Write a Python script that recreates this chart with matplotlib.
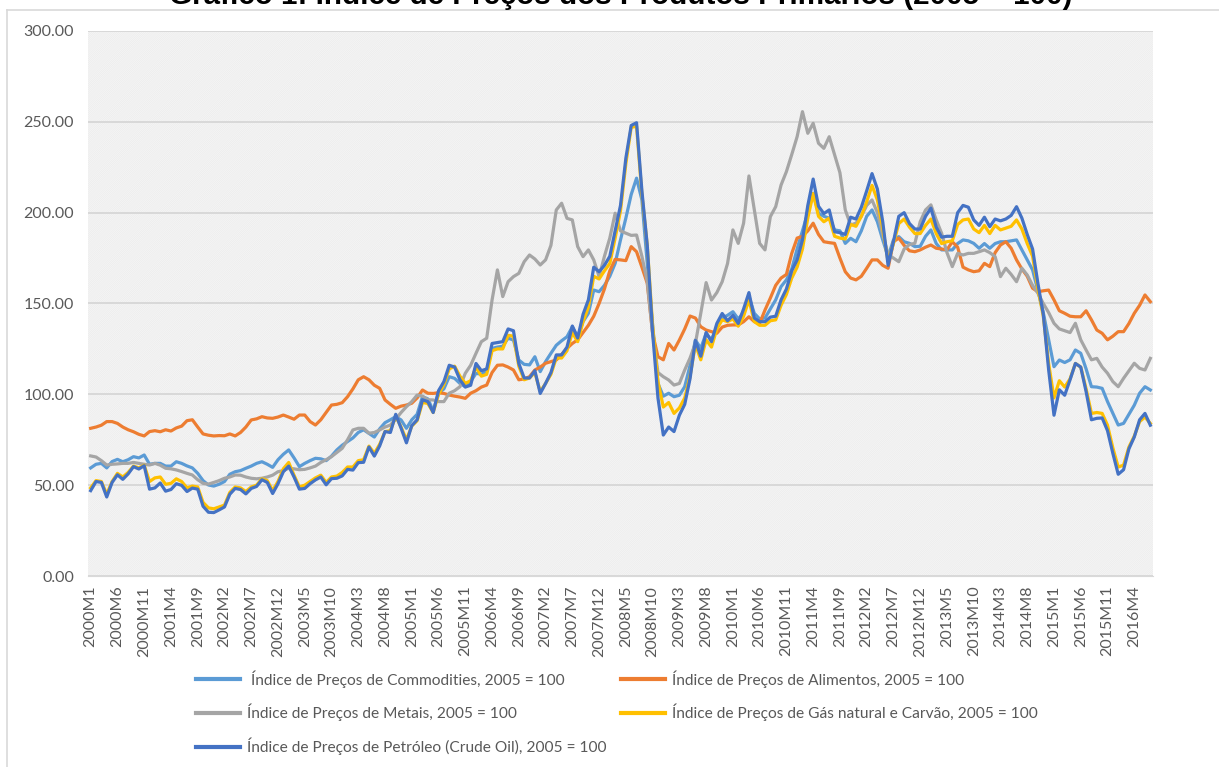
import numpy as np
import matplotlib.pyplot as plt
from matplotlib.lines import Line2D
from matplotlib.patches import Rectangle

plt.rcParams["font.family"] = ["Lato", "DejaVu Sans"]
plt.rcParams["hatch.linewidth"] = 0.9

# monthly categories 2000M1 .. 2016M7
months = [f"{y}M{m}" for y in range(2000, 2017) for m in range(1, 13)][:199]

commodities = [
    59.5, 61.5, 62.0, 59.5, 63.0, 64.2, 62.9, 64.0, 65.7, 65.0, 66.6, 61.5,
    62.0, 62.0, 60.5, 60.5, 62.9, 62.0, 60.6, 59.5, 56.5, 52.5, 50.1, 49.5,
    50.5, 52.0, 56.0, 57.4, 58.0, 59.3, 60.5, 62.0, 62.9, 61.5, 59.8, 64.0,
    67.0, 69.4, 65.0, 60.2, 62.0, 63.5, 64.8, 64.5, 63.5, 66.0, 69.4, 72.0,
    74.0, 76.0, 79.0, 80.5, 78.5, 76.5, 81.0, 84.4, 86.0, 87.7, 85.9, 81.3,
    86.0, 89.0, 98.7, 97.5, 91.0, 100.6, 103.0, 109.7, 108.8, 106.0, 104.2, 107.0,
    111.6, 111.0, 113.0, 125.3, 126.0, 126.5, 130.9, 129.9, 118.9, 116.5, 116.2, 120.7,
    112.5, 118.0, 122.6, 127.0, 129.5, 131.7, 137.2, 131.7, 140.0, 144.6, 157.4, 156.5,
    160.0, 165.0, 172.1, 185.0, 197.0, 210.0, 219.0, 207.0, 172.0, 138.0, 106.0, 99.0,
    100.6, 98.7, 99.5, 104.2, 116.0, 129.9, 125.3, 133.6, 129.9, 137.0, 141.9, 143.5,
    145.5, 141.5, 145.0, 153.8, 144.6, 141.5, 142.0, 147.0, 152.0, 159.3, 163.0, 169.0,
    180.0, 190.0, 200.0, 210.7, 199.7, 198.0, 197.0, 190.5, 190.0, 183.1, 185.9, 184.0,
    190.0, 198.0, 201.5, 195.0, 185.0, 175.8, 185.0, 186.8, 184.0, 183.1, 181.3, 181.5,
    187.0, 190.5, 183.0, 179.5, 179.5, 179.5, 183.0, 185.0, 184.5, 183.1, 180.4, 183.0,
    180.4, 183.0, 184.0, 184.0, 184.5, 185.0, 179.5, 174.0, 168.5, 157.0, 145.0, 130.0,
    115.2, 118.9, 117.5, 119.0, 124.4, 122.6, 114.0, 104.2, 104.0, 103.3, 96.0, 89.6,
    83.1, 84.0, 89.0, 94.0, 100.6, 104.2, 102.4,
]

food = [
    81.3, 82.0, 83.0, 85.0, 85.0, 84.0, 82.0, 80.5, 79.4, 78.0, 77.1, 79.5,
    80.0, 79.4, 80.5, 79.8, 81.5, 82.5, 85.5, 86.0, 82.0, 78.2, 77.5, 77.1,
    77.3, 77.2, 78.2, 77.1, 79.0, 82.0, 85.9, 86.5, 87.7, 87.0, 86.8, 87.5,
    88.6, 87.5, 86.3, 88.6, 88.6, 85.0, 83.1, 86.0, 90.0, 94.1, 94.5, 95.4,
    98.7, 103.0, 108.0, 109.7, 108.0, 105.0, 103.3, 96.9, 94.5, 92.3, 93.5, 94.1,
    95.1, 98.0, 102.4, 100.6, 100.5, 100.9, 100.5, 99.6, 99.0, 98.5, 97.8, 100.6,
    102.0, 104.0, 105.1, 112.0, 116.0, 116.2, 115.0, 113.4, 108.0, 108.5, 109.7, 113.4,
    115.0, 117.1, 118.0, 118.9, 122.0, 125.3, 128.0, 130.0, 134.0, 138.0, 143.0, 150.0,
    158.0, 168.0, 174.3, 174.0, 173.6, 181.3, 178.5, 170.0, 161.1, 133.6, 120.7, 119.0,
    128.0, 124.4, 129.9, 136.0, 143.1, 142.0, 137.2, 135.4, 134.5, 133.6, 137.0, 138.0,
    138.2, 138.2, 140.0, 142.7, 140.0, 139.1, 146.4, 153.0, 160.0, 164.0, 166.0, 177.6,
    186.0, 187.0, 190.0, 194.2, 188.0, 184.0, 183.5, 183.1, 175.0, 167.5, 164.0, 163.0,
    165.0, 169.4, 174.0, 174.0, 171.0, 169.4, 184.0, 186.0, 182.0, 179.0, 178.5, 179.5,
    181.0, 182.2, 180.4, 180.0, 179.5, 184.0, 181.0, 170.0, 168.5, 167.5, 168.0, 172.1,
    170.3, 178.0, 182.2, 184.0, 180.4, 174.0, 169.0, 165.0, 158.4, 156.5, 157.0, 157.4,
    152.0, 146.0, 144.6, 143.0, 142.7, 142.7, 146.0, 141.0, 135.4, 133.6, 130.0, 132.0,
    134.5, 134.5, 139.0, 144.6, 149.0, 154.7, 151.0,
]

metals = [
    66.1, 65.5, 63.5, 61.1, 61.5, 61.7, 62.0, 62.0, 62.5, 62.0, 61.5, 61.1,
    62.0, 61.0, 59.3, 59.0, 58.4, 57.5, 56.5, 55.6, 53.0, 51.0, 50.6, 51.5,
    52.5, 53.8, 54.5, 55.6, 55.5, 54.5, 53.8, 53.5, 53.8, 54.5, 55.5, 57.4,
    58.0, 59.3, 59.0, 58.5, 58.7, 59.5, 60.5, 62.5, 64.0, 65.7, 68.0, 70.3,
    75.0, 80.4, 81.3, 81.3, 78.6, 79.0, 80.4, 82.0, 83.1, 86.3, 90.0, 93.2,
    96.0, 99.6, 99.0, 97.0, 96.9, 96.0, 96.0, 100.6, 102.0, 104.2, 111.6, 116.0,
    122.6, 129.0, 130.9, 151.9, 168.5, 153.8, 162.0, 164.8, 166.6, 173.0, 176.7, 174.5,
    171.2, 174.0, 182.0, 201.5, 205.2, 196.9, 196.0, 181.3, 175.8, 179.5, 174.0, 164.8,
    176.0, 186.0, 199.7, 190.0, 188.7, 187.5, 187.7, 176.0, 162.0, 133.6, 112.0, 109.7,
    107.9, 105.1, 106.0, 113.4, 120.0, 128.1, 144.6, 161.5, 151.9, 156.0, 162.0, 172.0,
    190.5, 183.1, 194.2, 220.2, 201.5, 183.1, 179.5, 197.8, 203.3, 215.2, 222.6, 232.0,
    241.8, 255.6, 243.7, 249.2, 238.2, 235.4, 241.8, 232.0, 222.0, 201.5, 193.2, 194.2,
    198.0, 204.0, 207.0, 200.0, 188.0, 177.0, 175.0, 173.0, 180.0, 182.5, 183.1, 195.0,
    201.5, 204.3, 196.0, 188.7, 178.0, 170.3, 177.6, 176.7, 177.6, 177.6, 178.5, 179.5,
    178.0, 175.8, 164.8, 169.4, 166.0, 162.0, 169.4, 165.7, 160.0, 155.6, 150.0, 145.0,
    139.1, 136.0, 135.0, 134.0, 139.1, 130.0, 124.4, 119.0, 119.8, 115.0, 111.6, 107.0,
    104.2, 108.8, 113.0, 117.1, 114.3, 113.4, 119.8,
]

gas_coal = [
    48.5, 52.5, 52.0, 45.0, 52.0, 56.5, 54.5, 57.0, 60.5, 59.5, 61.0, 52.0,
    54.0, 54.5, 50.5, 51.0, 53.5, 52.0, 48.5, 49.5, 49.0, 40.5, 37.5, 37.0,
    38.0, 39.0, 46.0, 49.0, 48.5, 46.5, 49.0, 50.0, 53.5, 52.5, 47.0, 52.0,
    59.0, 62.5, 55.5, 49.0, 50.0, 52.0, 54.0, 55.5, 51.5, 54.5, 55.0, 57.0,
    60.0, 60.0, 63.5, 64.0, 71.5, 67.5, 72.5, 79.5, 80.0, 88.0, 82.0, 75.0,
    82.5, 85.5, 95.5, 95.0, 90.0, 100.0, 105.5, 114.0, 115.5, 110.0, 106.0, 107.5,
    115.0, 110.0, 111.0, 124.0, 125.0, 125.0, 132.5, 132.0, 115.5, 108.0, 109.0, 112.0,
    101.5, 106.0, 111.0, 120.0, 120.0, 124.0, 134.0, 129.0, 140.0, 148.0, 165.0, 163.5,
    168.0, 172.0, 186.0, 201.0, 227.0, 247.0, 247.5, 210.0, 182.0, 138.0, 107.0, 93.0,
    95.5, 89.5, 92.5, 98.0, 110.0, 127.5, 119.0, 130.0, 126.0, 136.0, 141.0, 140.0,
    141.5, 137.5, 143.0, 152.0, 140.0, 138.0, 138.0, 140.5, 141.0, 149.0, 155.0, 164.0,
    170.0, 180.0, 197.0, 210.5, 198.0, 195.0, 197.0, 187.0, 186.0, 185.5, 193.5, 192.5,
    198.0, 206.0, 215.0, 207.0, 191.5, 173.0, 183.0, 194.0, 196.5, 192.0, 188.5, 188.5,
    193.0, 196.5, 188.5, 183.0, 184.0, 184.5, 193.5, 196.0, 196.5, 191.0, 189.0, 193.0,
    188.5, 193.0, 190.5, 191.5, 192.5, 196.0, 191.0, 183.0, 176.0, 158.0, 143.0, 117.0,
    98.0, 107.5, 104.0, 108.5, 117.0, 115.0, 103.0, 89.5, 90.0, 89.5, 83.0, 70.5,
    60.0, 61.0, 71.0, 77.0, 85.0, 87.5, 84.0,
]

oil = [
    47.0, 52.0, 51.5, 43.5, 51.5, 55.7, 53.2, 56.2, 60.2, 58.9, 60.7, 47.8,
    48.5, 51.2, 46.7, 47.6, 50.8, 49.9, 46.5, 48.4, 47.8, 38.4, 35.1, 34.9,
    36.4, 38.0, 45.0, 48.2, 47.6, 45.2, 48.2, 49.3, 53.0, 51.5, 45.4, 50.8,
    57.4, 60.5, 54.5, 47.8, 48.2, 50.8, 52.9, 54.5, 50.2, 53.6, 53.8, 55.1,
    58.7, 58.3, 62.4, 62.6, 71.0, 66.0, 71.6, 79.5, 79.0, 89.0, 81.4, 73.3,
    82.8, 86.0, 97.0, 96.0, 90.0, 102.0, 107.0, 116.0, 115.0, 108.0, 104.0, 105.0,
    117.0, 113.0, 114.0, 128.0, 128.5, 129.0, 136.0, 135.0, 117.0, 109.0, 109.0, 113.0,
    100.5, 106.0, 112.0, 121.7, 121.7, 126.0, 137.6, 131.0, 144.0, 152.0, 170.0, 167.5,
    171.0, 176.0, 190.0, 204.0, 230.0, 248.0, 249.5, 212.0, 182.0, 134.0, 98.0, 77.6,
    82.0, 79.5, 88.5, 94.5, 108.7, 129.7, 121.0, 134.0, 129.0, 139.0, 144.5, 140.5,
    143.5, 139.0, 147.0, 156.0, 142.0, 140.0, 140.0, 142.5, 143.0, 152.0, 158.0, 168.0,
    174.0, 185.0, 204.0, 218.5, 203.5, 199.5, 201.5, 189.5, 189.0, 188.0, 197.5, 196.5,
    203.0, 212.0, 221.5, 213.0, 195.0, 171.0, 184.0, 198.0, 200.0, 194.0, 191.0, 191.0,
    198.0, 202.5, 192.0, 186.5, 187.0, 187.0, 200.0, 204.0, 203.0, 196.0, 193.0, 197.5,
    192.3, 196.5, 195.5, 196.5, 198.5, 203.3, 197.0, 188.0, 180.0, 161.0, 144.0, 113.5,
    88.5, 102.5, 99.5, 108.0, 117.0, 115.0, 101.5, 86.0, 86.8, 87.0, 80.0, 67.5,
    56.0, 58.5, 70.0, 76.5, 86.0, 89.5, 83.0,
]

labels = [
    " Índice de Preços de Commodities, 2005 = 100",
    "Índice de Preços de Alimentos, 2005 = 100",
    "Índice de Preços de Metais, 2005 = 100",
    "Índice de Preços de Gás natural e Carvão, 2005 = 100",
    "Índice de Preços de Petróleo (Crude Oil), 2005 = 100",
]
colors = ["#5B9BD5", "#ED7D31", "#A5A5A5", "#FFC000", "#4472C4"]
series = [commodities, food, metals, gas_coal, oil]

W, H = 1219, 767
fig = plt.figure(figsize=(W / 100, H / 100), dpi=100)

# outer chart border (left and top visible)
fig.add_artist(Line2D([7 / W, 7 / W], [0, 1 - 10 / H], color="#D9D9D9", lw=1.2))
fig.add_artist(Line2D([7 / W, 1], [1 - 10 / H, 1 - 10 / H], color="#D9D9D9", lw=1.2))

# title sits partly above the top edge, as in the source image
fig.text(621 / W, 1 - 3.5 / H,
         "Gráfico 1: Índice de Preços dos Produtos Primários (2005 = 100)",
         ha="center", va="baseline", fontsize=21.3, fontweight="bold",
         family="Liberation Sans", color="black")

ax = fig.add_axes([88 / W, (H - 576) / H, 1065 / W, 545 / H])
ax.set_facecolor("#E1E1E1")
ax.add_patch(Rectangle((0, 0), 1, 1, transform=ax.transAxes, facecolor="none",
                       edgecolor="#F4F4F4", hatch="/" * 16, lw=0, zorder=0))
ax.set_axisbelow(True)
ax.yaxis.grid(True, color="#D4D4D4", lw=1.2)

x = np.arange(len(months))
lines = []
for vals, c, lab in zip(series, colors, labels):
    ln, = ax.plot(x, vals, color=c, lw=2.3, label=lab, solid_joinstyle="round")
    lines.append(ln)

ax.set_xlim(-0.5, len(months) - 0.5)
ax.set_ylim(0, 300)
ax.set_yticks(np.arange(0, 301, 50))
ax.set_yticklabels([f"{v:.2f}" for v in np.arange(0, 301, 50)])
tick_pos = list(range(0, len(months), 5))
ax.set_xticks(tick_pos)
ax.set_xticklabels([months[i] for i in tick_pos], rotation=90)
ax.tick_params(axis="both", length=0, colors="#595959", labelsize=11.5)
ax.tick_params(axis="y", pad=10)
ax.tick_params(axis="x", pad=7)
for s in ["top", "right", "left"]:
    ax.spines[s].set_visible(False)
ax.spines["bottom"].set_color("#D9D9D9")

leg_kw = dict(frameon=False, fontsize=11.2, handlelength=2.8, handletextpad=0.5,
              labelspacing=1.05, labelcolor="#595959", borderaxespad=0, borderpad=0)
leg1 = fig.legend([lines[0], lines[2], lines[4]], [labels[0], labels[2], labels[4]],
                  loc="upper left", bbox_to_anchor=(196 / W, 1 - 670 / H), **leg_kw)
leg2 = fig.legend([lines[1], lines[3]], [labels[1], labels[3]],
                  loc="upper left", bbox_to_anchor=(621 / W, 1 - 670 / H), **leg_kw)
for lg in (leg1, leg2):
    for h in lg.legend_handles:
        h.set_linewidth(3)

fig.savefig("out.png", dpi=100)
